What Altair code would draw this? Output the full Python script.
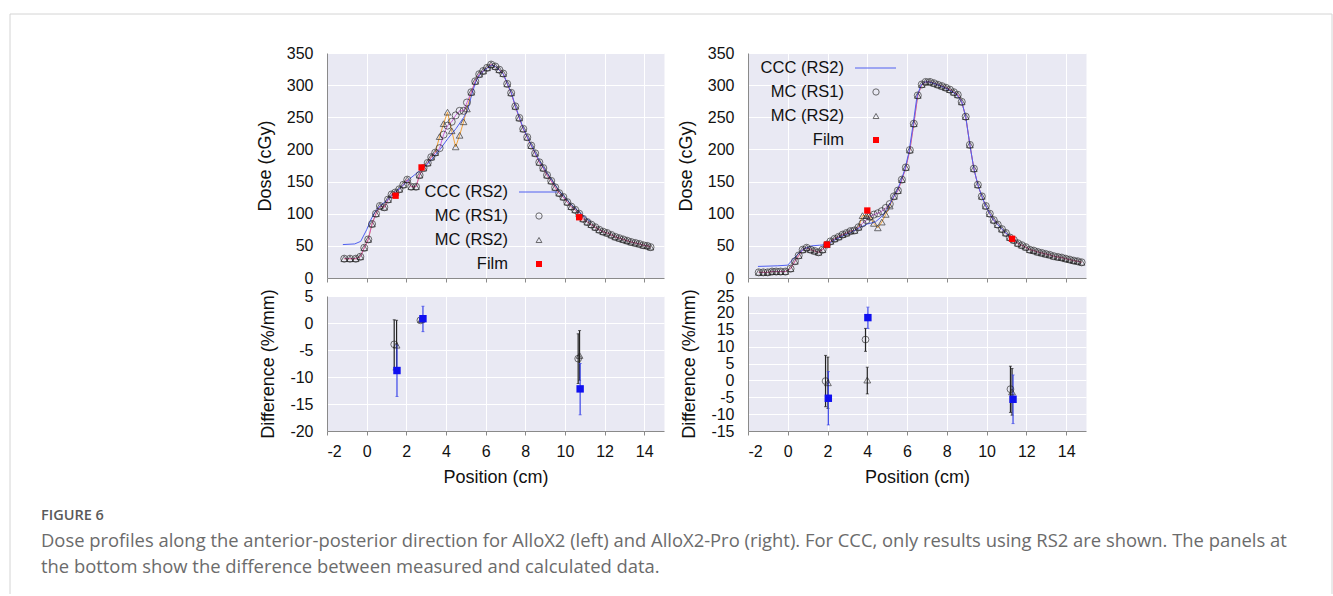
import altair as alt
import pandas as pd

FONT = "Liberation Sans"
CAPFONT = "Open Sans"
BG = "#e9e9f3"
ORANGE = "#f2a33a"
MAGENTA = "#c23fd0"
BLUE_LINE = "#5060f0"
RED = "#ff0000"
BLUE_SQ = "#1010f0"

# ---------------- Left (AlloX2) dose profile ----------------
left_x = [-1.13, -0.84, -0.55, -0.32, -0.12, 0.08, 0.27, 0.47, 0.67, 0.89,
          1.08, 1.26, 1.45, 1.65, 1.85, 2.05, 2.25, 2.49, 2.67, 2.87,
          3.08, 3.26, 3.46, 3.68, 3.88, 4.08, 4.29, 4.49, 4.69, 4.89,
          5.06, 5.28, 5.48, 5.68, 5.88, 6.08, 6.28, 6.49, 6.69, 6.89,
          7.09, 7.29, 7.5, 7.7, 7.9, 8.1, 8.3, 8.5, 8.71, 8.91,
          9.1, 9.31, 9.51, 9.71, 9.92, 10.12, 10.32, 10.52, 10.72, 10.92,
          11.13, 11.33, 11.53, 11.73, 11.93, 12.13, 12.34, 12.54, 12.74, 12.94,
          13.14, 13.34, 13.55, 13.75, 13.95, 14.15, 14.32]
left_mc_rs1 = [30, 30, 30, 33, 47, 60, 84, 100, 112, 110,
               122, 130, 133, 138, 145, 153, 142, 142, 160, 171,
               179, 188, 195, 202, 223, 237, 243, 253, 260, 260,
               273, 289, 306, 317, 322, 327, 332, 329, 324, 318,
               302, 288, 267, 249, 232, 219, 206, 194, 180, 171,
               160, 151, 141, 132, 126, 118, 111, 106, 100, 92,
               87, 83, 79, 75, 72, 70, 67, 64, 62, 60,
               58, 56, 54.5, 53, 51, 50, 48]
left_mc_rs2 = [30, 30, 30, 33, 47, 60, 84, 100, 112, 110,
               122, 130, 133, 138, 145, 153, 142, 142, 160, 171,
               179, 188, 195, 220, 240, 258, 229, 204, 222, 243,
               263, 289, 306, 317, 322, 327, 332, 329, 324, 318,
               302, 288, 267, 249, 232, 219, 206, 194, 180, 171,
               160, 151, 141, 132, 126, 118, 111, 106, 100, 92,
               87, 83, 79, 75, 72, 70, 67, 64, 62, 60,
               58, 56, 54.5, 53, 51, 50, 48]
left_ccc_x = [-1.2, -0.6, -0.3, 0.0, 0.2, 0.4, 0.7, 1.0, 1.4, 1.8, 2.2, 2.6, 2.9,
              3.3, 3.7, 4.1, 4.5, 4.9, 5.1, 5.3, 5.5, 5.7, 5.9, 6.1, 6.3, 6.5,
              6.7, 6.9, 7.1, 7.3, 7.5, 7.7, 7.9, 8.1, 8.3, 8.5, 8.7, 8.9, 9.1,
              9.3, 9.5, 9.7, 9.9, 10.1, 10.3, 10.5, 10.7, 10.9, 11.1, 11.3]
left_ccc = [52, 53, 57, 75, 90, 102, 113, 120, 132, 143, 155, 165, 172,
            185, 200, 217, 232, 250, 262, 285, 305, 316, 322, 327, 331, 329,
            323, 317, 302, 288, 268, 250, 233, 220, 207, 195, 183, 173, 163,
            154, 145, 136, 129, 122, 115, 109, 103, 98, 92, 88]
left_film_x = [1.46, 2.77, 10.72]
left_film = [128, 172, 94.5]

# ---------------- Right (AlloX2-Pro) dose profile ----------------
right_x = [-1.46, -1.23, -1.01, -0.79, -0.58, -0.36, -0.12,
           0.14, 0.36, 0.55, 0.75, 0.95, 1.15, 1.35, 1.55, 1.75, 1.97,
           2.15, 2.36, 2.56, 2.76, 2.96, 3.16, 3.36, 3.56, 3.76, 3.96,
           4.13, 4.33, 4.53, 4.73, 4.93, 5.13, 5.34, 5.54, 5.74, 5.94,
           6.14, 6.34, 6.54, 6.74, 6.94, 7.15, 7.35, 7.55, 7.75, 7.95,
           8.15, 8.35, 8.55, 8.75, 8.95, 9.16, 9.36, 9.56, 9.76, 9.96,
           10.16, 10.36, 10.56, 10.77, 10.97, 11.17, 11.37, 11.57, 11.77, 11.97,
           12.17, 12.37, 12.57, 12.77, 12.97, 13.17, 13.37, 13.58, 13.78, 13.98,
           14.18, 14.38, 14.58, 14.78]
right_mc_rs1 = [8.8, 8.8, 8.8, 10, 10, 10, 10,
                14.5, 26, 35, 44, 47, 44, 42, 40, 44, 52,
                57, 61, 64, 67.5, 70, 73, 74, 79, 85, 90,
                95.5, 98.6, 100.7, 104, 109, 115, 127, 136, 153, 172,
                199, 240, 284, 301, 305, 305, 303, 300.6, 298.5, 296,
                293, 289, 285, 274, 251, 207, 170, 145, 127, 112,
                100, 90, 83, 76, 70, 63, 59, 54, 51, 48,
                44, 42.6, 40.5, 39, 37.4, 36, 34, 32.7, 31.7, 30,
                28.6, 27, 26, 24.4]
right_mc_rs2 = [8.8, 8.8, 8.8, 10, 10, 10, 10,
                14.5, 26, 35, 44, 47, 44, 42, 40, 44, 52,
                57, 61, 64, 67.5, 70, 73, 74, 79, 97, 97,
                95, 85, 78, 87, 99, 112, 127, 136, 153, 172,
                199, 240, 284, 301, 305, 305, 303, 300.6, 298.5, 296,
                293, 289, 285, 274, 251, 207, 170, 145, 127, 112,
                100, 90, 83, 76, 70, 63, 59, 54, 51, 48,
                44, 42.6, 40.5, 39, 37.4, 36, 34, 32.7, 31.7, 30,
                28.6, 27, 26, 24.4]
right_ccc_x = [-1.5, -0.5, 0.0, 0.2, 0.5, 0.8, 1.2, 1.6, 2.0, 2.4, 2.8, 3.2, 3.6,
               4.0, 4.4, 4.7, 5.0, 5.3, 5.5, 5.7, 5.9, 6.1, 6.3, 6.5, 6.7, 6.9,
               7.1, 7.5, 7.9, 8.3, 8.5, 8.75, 8.95, 9.16, 9.36, 9.56, 9.76, 9.96,
               10.16, 10.36, 10.56, 10.77, 10.97, 11.17, 11.4]
right_ccc = [18, 19, 20, 27, 37, 45, 50, 51, 52, 60, 66, 71, 78,
             84, 87, 95, 107, 125, 136, 152, 170, 197, 238, 283, 300, 305,
             305, 301, 296, 289, 285, 274, 251, 207, 170, 145, 127, 112,
             100, 90, 83, 76, 70, 64, 58]
right_film_x = [1.97, 4.0, 11.28]
right_film = [52, 105, 61]

# ---------------- Difference panels ----------------
left_diff_rs1_x = [1.39, 2.71, 10.67]
left_diff_rs1 = [-3.95, 0.5, -6.6]
left_diff_rs1_lo = [-8.7, 0.2, -11.2]
left_diff_rs1_hi = [0.6, 0.8, -2.0]
left_diff_rs2_x = [1.51, 2.75, 10.74]
left_diff_rs2 = [-4.1, 0.6, -6.0]
left_diff_rs2_lo = [-8.6, 0.3, -10.6]
left_diff_rs2_hi = [0.5, 0.9, -1.4]
left_diff_ccc_x = [1.53, 2.84, 10.77]
left_diff_ccc = [-8.8, 0.8, -12.2]
left_diff_ccc_lo = [-13.6, -1.6, -17.0]
left_diff_ccc_hi = [-4.1, 3.1, -7.5]

right_diff_rs1_x = [1.9, 3.91, 11.2]
right_diff_rs1 = [-0.2, 12.1, -2.6]
right_diff_rs1_lo = [-7.8, 8.6, -9.5]
right_diff_rs1_hi = [7.4, 15.4, 4.2]
right_diff_rs2_x = [2.02, 4.0, 11.28]
right_diff_rs2 = [-0.7, 0.1, -3.4]
right_diff_rs2_lo = [-8.3, -4.0, -10.3]
right_diff_rs2_hi = [6.9, 3.9, 3.5]
right_diff_ccc_x = [2.04, 4.03, 11.33]
right_diff_ccc = [-5.3, 18.6, -5.6]
right_diff_ccc_lo = [-13.2, 15.4, -12.8]
right_diff_ccc_hi = [2.6, 21.7, 1.6]

legend_labels = ["CCC (RS2)", "MC (RS1)", "MC (RS2)", "Film"]
x_ticks = [-2, 0, 2, 4, 6, 8, 10, 12, 14]
dose_ticks = [0, 50, 100, 150, 200, 250, 300, 350]
left_diff_ticks = [5, 0, -5, -10, -15, -20]
right_diff_ticks = [25, 20, 15, 10, 5, 0, -5, -10, -15]

caption_head = "FIGURE 6"
caption_l1 = ("Dose profiles along the anterior-posterior direction for AlloX2 (left) and "
              "AlloX2-Pro (right). For CCC, only results using RS2 are shown. The panels at")
caption_l2 = "the bottom show the difference between measured and calculated data."

W_L, W_R, H_T, H_B = 337, 338, 225, 135
PT_COL = "#1e1e1e"
HYPHEN_LABEL = "'' + datum.value"


def xenc(labels):
    if labels:
        ax = alt.Axis(values=x_ticks, title="Position (cm)", tickSize=4, labelPadding=8,
                      titlePadding=9, labelExpr=HYPHEN_LABEL)
    else:
        ax = alt.Axis(values=x_ticks, title=None, labels=False, tickSize=4)
    return alt.X("x:Q", scale=alt.Scale(domain=[-2, 15], nice=False, zero=False), axis=ax)


def yenc(field, domain, ticks, title):
    return alt.Y(f"{field}:Q", scale=alt.Scale(domain=domain, nice=False, zero=False),
                 axis=alt.Axis(values=ticks, title=title, ticks=False, labelPadding=14,
                               titlePadding=12, labelExpr=HYPHEN_LABEL))


def top_panel(xs, rs1, rs2, cx, cy, fx, fy, width, leg):
    d1 = pd.DataFrame({"x": xs, "dose": rs1})
    d2 = pd.DataFrame({"x": xs, "dose": rs2})
    dc = pd.DataFrame({"x": cx, "dose": cy})
    df = pd.DataFrame({"x": fx, "dose": fy})
    X = xenc(False)
    Y = yenc("dose", [0, 350], dose_ticks, "Dose (cGy)")
    layers = [
        alt.Chart(d2).mark_line(color=ORANGE, strokeWidth=1).encode(x=X, y=Y),
        alt.Chart(d1).mark_line(color=MAGENTA, strokeWidth=0.8).encode(x=X, y=Y),
        alt.Chart(dc).mark_line(color=BLUE_LINE, strokeWidth=1).encode(x=X, y=Y),
        alt.Chart(d2).mark_point(shape="triangle-up", filled=False, color=PT_COL,
                                 strokeWidth=0.9, size=44).encode(x=X, y=Y),
        alt.Chart(d1).mark_point(shape="circle", filled=False, color=PT_COL,
                                 strokeWidth=0.9, size=50).encode(x=X, y=Y),
        alt.Chart(df).mark_square(color=RED, size=40, opacity=1).encode(x=X, y=Y),
    ]
    # legend: labels right-aligned with symbol to their right
    tx, sx, l0, l1, y0, dy = leg
    one = pd.DataFrame({"k": [0]})
    for i, lab in enumerate(legend_labels):
        yy = y0 + i * dy
        layers.append(alt.Chart(pd.DataFrame({"t": [lab]})).mark_text(
            align="right", baseline="middle", font=FONT, fontSize=16.5, color="#111"
        ).encode(text="t:N", x=alt.value(tx), y=alt.value(yy)))
    layers.append(alt.Chart(one).mark_rule(color=BLUE_LINE, strokeWidth=1).encode(
        x=alt.value(l0), x2=alt.value(l1), y=alt.value(y0)))
    layers.append(alt.Chart(one).mark_point(shape="circle", filled=False, color=PT_COL,
                                            strokeWidth=0.9, size=40).encode(
        x=alt.value(sx), y=alt.value(y0 + dy)))
    layers.append(alt.Chart(one).mark_point(shape="triangle-up", filled=False, color=PT_COL,
                                            strokeWidth=0.9, size=34).encode(
        x=alt.value(sx), y=alt.value(y0 + 2 * dy)))
    layers.append(alt.Chart(one).mark_square(color=RED, size=36, opacity=1).encode(
        x=alt.value(sx), y=alt.value(y0 + 3 * dy)))
    return alt.layer(*layers).properties(width=width, height=H_T,
                                         view=alt.ViewBackground(fill=BG, stroke="transparent"))


def diff_panel(series, domain, ticks, width):
    X = xenc(True)
    title = "Difference (%/mm)"
    layers = []
    styles = [("rs1", "circle"), ("rs2", "triangle-up"), ("ccc", "square")]
    for (key, shp), (xs, vs, lo, hi) in zip(styles, series):
        d = pd.DataFrame({"x": xs, "v": vs, "lo": lo, "hi": hi})
        bar_col = "#3a45e8" if key == "ccc" else "#222"
        layers.append(alt.Chart(d).mark_rule(color=bar_col, strokeWidth=1.2).encode(
            x=X, y=yenc("lo", domain, ticks, title), y2="hi:Q"))
        for end in ["lo", "hi"]:
            layers.append(alt.Chart(d).mark_tick(color=bar_col, orient="horizontal", size=3,
                                                 thickness=1).encode(
                x=X, y=yenc(end, domain, ticks, title)))
    for (key, shp), (xs, vs, lo, hi) in zip(styles, series):
        d = pd.DataFrame({"x": xs, "v": vs})
        Y = yenc("v", domain, ticks, title)
        if key == "ccc":
            layers.append(alt.Chart(d).mark_square(color=BLUE_SQ, size=55, opacity=1).encode(x=X, y=Y))
        else:
            layers.append(alt.Chart(d).mark_point(shape=shp, filled=False, color="#222",
                                                  strokeWidth=0.9, size=46).encode(x=X, y=Y))
    return alt.layer(*layers).properties(width=width, height=H_B,
                                         view=alt.ViewBackground(fill=BG, stroke="transparent"))


tl = top_panel(left_x, left_mc_rs1, left_mc_rs2, left_ccc_x, left_ccc, left_film_x, left_film,
               W_L, (181, 212, 192, 230, 139, 24))
tr = top_panel(right_x, right_mc_rs1, right_mc_rs2, right_ccc_x, right_ccc, right_film_x, right_film,
               W_R, (96, 128, 107, 148, 15, 24))

bl = diff_panel([(left_diff_rs1_x, left_diff_rs1, left_diff_rs1_lo, left_diff_rs1_hi),
                 (left_diff_rs2_x, left_diff_rs2, left_diff_rs2_lo, left_diff_rs2_hi),
                 (left_diff_ccc_x, left_diff_ccc, left_diff_ccc_lo, left_diff_ccc_hi)],
                [-20, 5], left_diff_ticks, W_L)
br = diff_panel([(right_diff_rs1_x, right_diff_rs1, right_diff_rs1_lo, right_diff_rs1_hi),
                 (right_diff_rs2_x, right_diff_rs2, right_diff_rs2_lo, right_diff_rs2_hi),
                 (right_diff_ccc_x, right_diff_ccc, right_diff_ccc_lo, right_diff_ccc_hi)],
                [-15, 25], right_diff_ticks, W_R)

one = pd.DataFrame({"k": [0]})
cap_layers = [
    alt.Chart(pd.DataFrame({"t": [caption_head]})).mark_text(
        align="left", baseline="middle", font=CAPFONT, fontSize=14.5, fontWeight=600, color="#5a5a5a"
    ).encode(text="t:N", x=alt.value(-286), y=alt.value(67)),
    alt.Chart(pd.DataFrame({"t": [caption_l1]})).mark_text(
        align="left", baseline="middle", font=CAPFONT, fontSize=18.4, color="#6b6b6b"
    ).encode(text="t:N", x=alt.value(-286), y=alt.value(92)),
    alt.Chart(pd.DataFrame({"t": [caption_l2]})).mark_text(
        align="left", baseline="middle", font=CAPFONT, fontSize=18.4, color="#6b6b6b"
    ).encode(text="t:N", x=alt.value(-286), y=alt.value(118)),
    # figure frame
    alt.Chart(one).mark_rule(color="#d4d4d4", strokeWidth=1).encode(
        x=alt.value(-317), y=alt.value(-435), y2=alt.value(145)),
    alt.Chart(one).mark_rule(color="#d4d4d4", strokeWidth=1).encode(
        x=alt.value(1005), y=alt.value(-435), y2=alt.value(145)),
    alt.Chart(one).mark_rule(color="#d4d4d4", strokeWidth=1).encode(
        x=alt.value(-317), x2=alt.value(1005), y=alt.value(-435)),
]
cap = alt.layer(*cap_layers).properties(width=W_L, height=100,
                                        view=alt.ViewBackground(stroke="transparent"))

chart = alt.concat(tl, tr, bl, br, cap, columns=2, spacing={"row": 18, "column": 84},
                   bounds="flush").properties(
    padding={"left": 9, "top": 13, "right": 0, "bottom": 0}
).configure_view(stroke="transparent").configure_axis(
    labelFont=FONT, titleFont=FONT, labelFontSize=16, titleFontSize=18, titleFontWeight="normal",
    labelColor="#111", titleColor="#111", domainColor="#8a8a8a", tickColor="#8a8a8a",
    gridColor="#ffffff", gridWidth=1, gridOpacity=1
)

chart.save("out.html", embed_options={"renderer": "svg", "actions": False})
